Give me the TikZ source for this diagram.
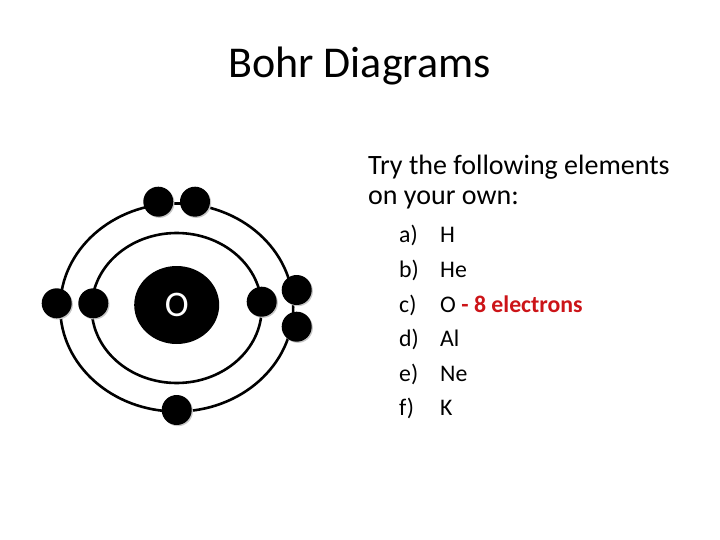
\documentclass[tikz,border=0pt]{standalone}
\usepackage{fontspec}
\setmainfont{Carlito}
\usetikzlibrary{shapes.geometric}
\definecolor{alertred}{RGB}{204,20,24}

\begin{document}
\begin{tikzpicture}
  [x=1pt,y=-1pt,
   orbit/.style={ellipse,draw,line width=2.6pt,inner sep=0pt},
   electron/.style={circle,fill=black,inner sep=0pt,minimum size=30pt},
   shade/.style={circle,fill=black!22,inner sep=0pt,minimum size=30pt},
   body/.style={anchor=base west,inner sep=0pt,font=\fontsize{28}{32}\selectfont},
   item/.style={anchor=base west,inner sep=0pt,font=\fontsize{23.8}{27}\selectfont}]
  \useasboundingbox (0,0) rectangle (720,540);

  \node[anchor=base,inner sep=0pt,font=\fontsize{44}{52}\selectfont] (title) at (359.5,78) {Bohr Diagrams};

  \node[orbit,minimum width=233pt,minimum height=208pt] (outer) at (176.7,307.5) {};
  \node[orbit,minimum width=170pt,minimum height=150pt] (inner) at (176.7,308) {};
  \node[ellipse,fill=black,minimum width=85pt,minimum height=78pt,inner sep=0pt,
        text=white,font=\fontsize{36}{40}\selectfont] (nucleus) at (176.7,305) {O};

  \foreach \n/\x/\y in {1/158.3/201.7,2/195/201.7,3/56.7/303.3,4/93.3/303.3,
                        5/261.7/301.7,6/296.7/290,7/296.7/326.7,8/176.7/410}
  {
    \node[shade] at (\x+1.2,\y+1.2) {};
    \node[electron] (e\n) at (\x,\y) {};
  }

  \node[body] (try) at (368,175) {Try the following elements};
  \node[body] (own) at (368,205) {on your own:};

  \foreach \n/\l/\t [count=\i from 0] in {a/a)/H,b/b)/He,c/c)/{O {\color{alertred}\bfseries - 8 electrons}},d/d)/Al,e/e)/Ne,f/f)/K}
  {
    \node[item] (l\n) at (399,243+34.5*\i) {\l};
    \node[item] (t\n) at (440,243+34.5*\i) {\t};
  }

\end{tikzpicture}
\end{document}
